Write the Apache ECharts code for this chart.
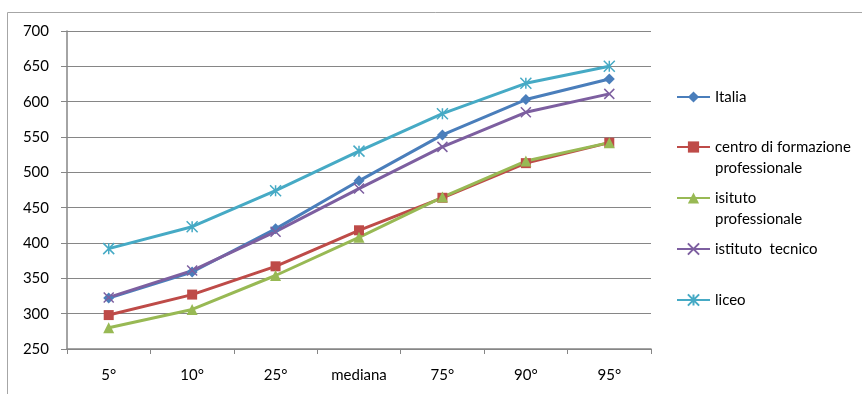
<!DOCTYPE html>
<html><head><meta charset="utf-8">
<script src="https://cdn.jsdelivr.net/npm/echarts@6/dist/echarts.min.js"></script>
<style>html,body{margin:0;padding:0;background:#fff}#c{width:862px;height:394px}</style>
</head><body><div id="c"></div>
<script>
const categories = ['5°','10°','25°','mediana','75°','90°','95°'];
const italia = [322, 359, 420, 488, 553, 603, 632];
const centro = [298, 327, 367, 418, 464, 513, 542];
const isitutoProf = [280, 306, 354, 408, 465, 516, 542];
const tecnico = [323, 361, 416, 477, 536, 585, 611];
const liceo = [392, 423, 474, 530, 583, 626, 650];
const yTicks = {min: 250, max: 700, interval: 50};

const seriesNames = ['Italia', 'centro di formazione professionale', 'isituto professionale', 'istituto tecnico', 'liceo'];
const legendLabels = ['Italia', '\ncentro di formazione\nprofessionale', '\nisituto\nprofessionale', 'istituto  tecnico', 'liceo'];
const colors = ['#4A7EBB', '#BE4B48', '#98B954', '#7D5FA0', '#46AAC5'];
const values = [italia, centro, isitutoProf, tecnico, liceo];

const xPath = 'path://M0,0L10,10M10,0L0,10';
const starPath = 'path://M0,0L10,10M10,0L0,10M5,0L5,10';
const symbols = ['diamond', 'rect', 'triangle', xPath, starPath];
const symSizes = [11, 10, 11, 10, 11];

const series = values.map((v, i) => {
  const isPath = i >= 3;
  return {
    name: seriesNames[i],
    type: 'line',
    data: v,
    symbol: symbols[i],
    symbolSize: symSizes[i],
    symbolKeepAspect: true,
    showAllSymbol: true,
    lineStyle: {color: colors[i], width: 3},
    itemStyle: isPath ? {color: 'none', borderColor: colors[i], borderWidth: 1.5} : {color: colors[i], borderWidth: 0},
    emphasis: {disabled: true},
    animation: false
  };
});

// icon centre y of each legend entry, in px
const legendCentres = [97, 147, 198, 249, 300];
const legends = seriesNames.map((n, i) => {
  const lines = legendLabels[i].split('\n').length;
  const h = lines * 21;
  return {
    data: [n],
    orient: 'vertical',
    left: 676,
    top: legendCentres[i] - h / 2,
    padding: 0,
    itemWidth: 33,
    itemHeight: 14,
    itemGap: 0,
    selectedMode: false,
    formatter: () => legendLabels[i],
    textStyle: {fontFamily: 'Lato', fontSize: 15, color: '#000', lineHeight: 21}
  };
});

const chart = echarts.init(document.getElementById('c'), null, {renderer: 'canvas'});
chart.setOption({
  animation: false,
  color: colors,
  grid: {left: 67, top: 31, right: 211, bottom: 45, containLabel: false},
  graphic: [{
    type: 'rect', shape: {x: 7.5, y: 12.5, width: 1000, height: 1000},
    style: {fill: 'none', stroke: '#A6A6A6', lineWidth: 1}, silent: true
  }],
  legend: legends,
  xAxis: {
    type: 'category',
    data: categories,
    boundaryGap: true,
    axisLine: {lineStyle: {color: '#868686', width: 1.5}},
    axisTick: {show: true, length: 5, lineStyle: {color: '#868686'}},
    axisLabel: {fontFamily: 'Lato', fontSize: 15, color: '#000', margin: 19}
  },
  yAxis: {
    type: 'value',
    min: yTicks.min, max: yTicks.max, interval: yTicks.interval,
    axisLine: {show: true, lineStyle: {color: '#868686', width: 1.5}},
    axisTick: {show: true, length: 6, lineStyle: {color: '#868686'}},
    axisLabel: {fontFamily: 'Lato', fontSize: 15, color: '#000', margin: 18},
    splitLine: {lineStyle: {color: '#868686', width: 1}}
  },
  series: series
});
</script></body></html>
